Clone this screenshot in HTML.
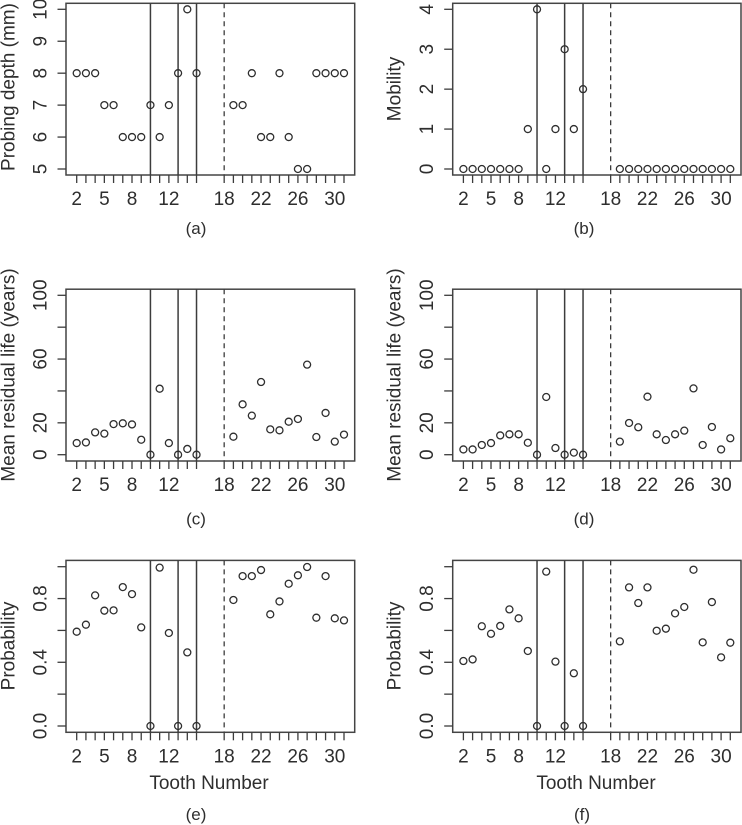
<!DOCTYPE html>
<html lang="en">
<head>
<meta charset="utf-8">
<title>Tooth number panel charts</title>
<style>
html,body{margin:0;padding:0;background:#fff;width:742px;height:825px;overflow:hidden}
svg{display:block}
text{font-family:"Liberation Sans",Arial,sans-serif;fill:#2e2e2e}
.axis-title{font-size:19px}
.tick-label{font-size:19px}
.caption{font-size:17px}
.box{fill:none;stroke:#444;stroke-width:1.5}
</style>
</head>
<body>
<svg id="chart" width="742" height="825" viewBox="0 0 742 825" xmlns="http://www.w3.org/2000/svg">
  <rect width="742" height="825" fill="#fff"/>

  <g id="panel-a">
    <rect class="box" x="66" y="3.3" width="288.7" height="171.7"/>
    <text class="axis-title" text-anchor="middle" transform="translate(14.5,87) rotate(-90)">Probing depth (mm)</text>
    <text class="caption" text-anchor="middle" x="196" y="234">(a)</text>
  </g>
  <g id="panel-b">
    <rect class="box" x="452.7" y="3.3" width="288.3" height="171.7"/>
    <text class="axis-title" text-anchor="middle" transform="translate(400.5,89) rotate(-90)">Mobility</text>
    <text class="caption" text-anchor="middle" x="584" y="234">(b)</text>
  </g>
  <g id="panel-c">
    <rect class="box" x="66" y="289.2" width="288.7" height="171.8"/>
    <text class="axis-title" text-anchor="middle" transform="translate(14.5,375) rotate(-90)">Mean residual life (years)</text>
    <text class="caption" text-anchor="middle" x="196" y="524.5">(c)</text>
  </g>
  <g id="panel-d">
    <rect class="box" x="452.7" y="289.2" width="288.3" height="171.8"/>
    <text class="axis-title" text-anchor="middle" transform="translate(400.5,375) rotate(-90)">Mean residual life (years)</text>
    <text class="caption" text-anchor="middle" x="584" y="524.5">(d)</text>
  </g>
  <g id="panel-e">
    <rect class="box" x="66" y="560.4" width="288.7" height="171.9"/>
    <text class="axis-title" text-anchor="middle" transform="translate(14.5,646) rotate(-90)">Probability</text>
    <text class="axis-title" text-anchor="middle" x="209" y="789">Tooth Number</text>
    <text class="caption" text-anchor="middle" x="196" y="820">(e)</text>
  </g>
  <g id="panel-f">
    <rect class="box" x="452.7" y="560.4" width="288.3" height="171.9"/>
    <text class="axis-title" text-anchor="middle" transform="translate(400.5,646) rotate(-90)">Probability</text>
    <text class="axis-title" text-anchor="middle" x="596" y="789">Tooth Number</text>
    <text class="caption" text-anchor="middle" x="582" y="820">(f)</text>
  </g>
</svg>

<script>
var teeth = [2,3,4,5,6,7,8,9,10,11,12,13,14,15,19,20,21,22,23,24,25,26,27,28,29,30,31];
var xTickTeeth = [2,3,4,5,6,7,8,9,10,11,12,13,14,15,18,19,20,21,22,23,24,25,26,27,28,29,30,31];
var xTickLabels = [2,5,8,12,18,22,26,30];
var removedTeeth = [10,13,15];
var midlineTooth = 18;

var probingDepth = [8,8,8,7,7,6,6,6,7,6,7,8,10,8,7,7,8,6,6,8,6,5,5,8,8,8,8];
var mobility = [0,0,0,0,0,0,0,1,4,0,1,3,1,2,0,0,0,0,0,0,0,0,0,0,0,0,0];
var residualLifeC = [7.3,7.7,14,13.2,19.2,19.7,19,9.4,0,41.4,7.3,0,3.6,0,11.3,31.6,24.5,45.6,15.9,15.3,20.7,22.4,56.5,11.1,26.2,8.2,12.6];
var residualLifeD = [3.3,3.3,6.1,7.3,12.1,12.8,12.8,7.5,0,36.2,4.2,0,1.3,0,8.2,19.9,17.2,36.4,12.8,9.2,12.8,15.1,41.6,6.1,17.4,3.3,10.3];
var probabilityE = [0.592,0.636,0.82,0.724,0.726,0.872,0.828,0.619,0,0.994,0.584,0,0.462,0,0.791,0.941,0.941,0.979,0.701,0.782,0.893,0.946,0.998,0.68,0.941,0.676,0.663];
var probabilityF = [0.408,0.418,0.626,0.579,0.628,0.732,0.676,0.471,0,0.969,0.404,0,0.331,0,0.531,0.87,0.772,0.87,0.598,0.611,0.707,0.747,0.981,0.525,0.778,0.431,0.523];

var depthTicks = [5,6,7,8,9,10];
var depthLabels = ["5","6","7","8","9","10"];
var mobilityTicks = [0,1,2,3,4];
var mobilityLabels = ["0","1","2","3","4"];
var lifeTicks = [0,20,40,60,80,100];
var lifeLabels = ["0","20","","60","","100"];
var probTicks = [0,0.2,0.4,0.6,0.8,1];
var probLabels = ["0.0","","0.4","","0.8",""];

var NS = "http://www.w3.org/2000/svg";

function linear(d0, d1, r0, r1) {
  return function (v) { return r0 + (v - d0) * (r1 - r0) / (d1 - d0); };
}

function addLine(parent, x1, y1, x2, y2, color, width) {
  var el = document.createElementNS(NS, "line");
  el.setAttribute("x1", x1);
  el.setAttribute("y1", y1);
  el.setAttribute("x2", x2);
  el.setAttribute("y2", y2);
  el.setAttribute("stroke", color);
  el.setAttribute("stroke-width", width);
  parent.appendChild(el);
  return el;
}

function drawPanel(id, values, yTicks, yLabels, left, right, top, bottom, yMin, yMax, yAtMin, yAtMax) {
  var g = document.getElementById("panel-" + id);
  var x = linear(2, 31, left + 10.7, right - 10.7);
  var y = linear(yMin, yMax, yAtMin, yAtMax);
  var tickColor = "#3c3c3c";
  var i, el;

  for (i = 0; i < xTickTeeth.length; i++) {
    el = addLine(g, x(xTickTeeth[i]), bottom, x(xTickTeeth[i]), bottom + 8, tickColor, 1.3);
    
    
  }
  for (i = 0; i < xTickLabels.length; i++) {
    el = document.createElementNS(NS, "text");
    el.setAttribute("class", "tick-label");
    el.setAttribute("text-anchor", "middle");
    el.setAttribute("x", x(xTickLabels[i]));
    el.setAttribute("y", bottom + 30);
    el.textContent = xTickLabels[i];
    
    
    g.appendChild(el);
  }
  for (i = 0; i < yTicks.length; i++) {
    el = addLine(g, left - 8.5, y(yTicks[i]), left, y(yTicks[i]), tickColor, 1.3);
    
    
    if (yLabels[i] !== "") {
      el = document.createElementNS(NS, "text");
      el.setAttribute("class", "tick-label");
      el.setAttribute("text-anchor", "middle");
      el.setAttribute("transform", "translate(" + (left - 19.5) + "," + y(yTicks[i]) + ") rotate(-90)");
      el.textContent = yLabels[i];
      
      
      g.appendChild(el);
    }
  }
  for (i = 0; i < removedTeeth.length; i++) {
    el = addLine(g, x(removedTeeth[i]), top, x(removedTeeth[i]), bottom, "#3c3c3c", 1.5);
    
    
  }
  el = addLine(g, x(midlineTooth), top, x(midlineTooth), bottom, "#3c3c3c", 1.3);
  el.setAttribute("stroke-dasharray", "5 4");
  
  

  for (i = 0; i < teeth.length; i++) {
    el = document.createElementNS(NS, "circle");
    el.setAttribute("cx", x(teeth[i]));
    el.setAttribute("cy", y(values[i]));
    el.setAttribute("r", 3.5);
    el.setAttribute("fill", "none");
    el.setAttribute("stroke", "#2e2e2e");
    el.setAttribute("stroke-width", 1.3);
    
    
    g.appendChild(el);
  }
}

drawPanel("a", probingDepth, depthTicks, depthLabels, 66, 354.7, 3.3, 175, 5, 10, 169, 9.3);
drawPanel("b", mobility, mobilityTicks, mobilityLabels, 452.7, 741, 3.3, 175, 0, 4, 169, 9.3);
drawPanel("c", residualLifeC, lifeTicks, lifeLabels, 66, 354.7, 289.2, 461, 0, 100, 454.7, 295.3);
drawPanel("d", residualLifeD, lifeTicks, lifeLabels, 452.7, 741, 289.2, 461, 0, 100, 454.7, 295.3);
drawPanel("e", probabilityE, probTicks, probLabels, 66, 354.7, 560.4, 732.3, 0, 1, 726, 566.7);
drawPanel("f", probabilityF, probTicks, probLabels, 452.7, 741, 560.4, 732.3, 0, 1, 726, 566.7);
</script>
</body>
</html>
